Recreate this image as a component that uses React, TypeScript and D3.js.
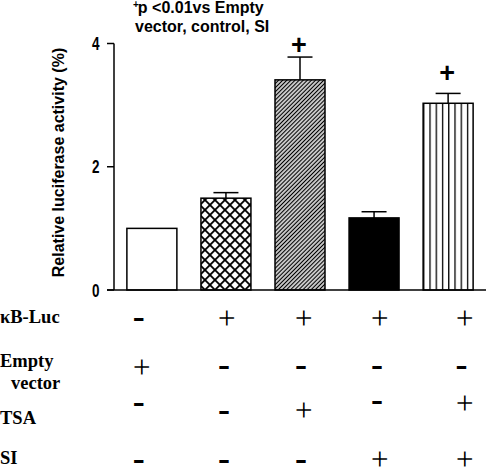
import React from "react";
import * as d3 from "d3";

const categories = ["Empty vector", "κB-Luc", "κB-Luc+TSA", "κB-Luc+SI", "κB-Luc+TSA+SI"];
const means = [1.0, 1.49, 3.41, 1.17, 3.03];
const errors = [0, 0.09, 0.37, 0.1, 0.16];
const fills = ["white", "url(#cross)", "url(#diag)", "black", "url(#vert)"];
const sigLevels: (number | null)[] = [null, null, 3.97, null, 3.51];
const yTicks = [0, 2, 4];

const rowKbLuc = ["-", "+", "+", "+", "+"];
const rowEmpty = ["+", "-", "-", "-", "-"];
const rowTSA = ["-", "-", "+", "-", "+"];
const rowSI = ["-", "-", "-", "+", "+"];

const W = 486;
const H = 468;

export default function App() {
  const x = d3.scaleBand<string>().domain(categories).range([114, 486]).paddingInner(0.325).paddingOuter(0.174);
  const y = d3.scaleLinear().domain([0, 4]).range([290, 43.5]);
  const bw = x.bandwidth();

  // table layout
  const colDx = [-13, -2, 1, 3, 13.5];
  const rows = [
    { signs: rowKbLuc, cy: [320, 318, 318, 318, 318] },
    { signs: rowEmpty, cy: [367, 368, 368, 368, 368] },
    { signs: rowTSA, cy: [405, 413, 410, 403, 403] },
    { signs: rowSI, cy: [462, 462, 462, 459, 459] },
  ];

  const sans = "Arial, 'Liberation Sans', sans-serif";
  const serif = "'Times New Roman', 'Liberation Serif', serif";
  const plusSize = 32;
  const minusSize = 14;

  return (
    <svg width={W} height={H} style={{ position: "absolute", left: 0, top: 0, background: "white" }}>
      <defs>
        <pattern id="cross" patternUnits="userSpaceOnUse" width={7.07} height={7.07} patternTransform="rotate(45)">
          <rect width={7.07} height={7.07} fill="white" />
          <line x1={0} y1={3.535} x2={7.07} y2={3.535} stroke="black" strokeWidth={1.9} />
          <line x1={3.535} y1={0} x2={3.535} y2={7.07} stroke="black" strokeWidth={1.9} />
        </pattern>
        <pattern id="diag" patternUnits="userSpaceOnUse" width={2.9} height={10} patternTransform="rotate(45)">
          <rect width={2.9} height={10} fill="white" />
          <line x1={1.45} y1={0} x2={1.45} y2={10} stroke="black" strokeWidth={1.4} />
        </pattern>
        <pattern id="vert" patternUnits="userSpaceOnUse" x={(x(categories[4]) ?? 0)} width={bw / 8} height={10}>
          <rect width={bw / 8} height={10} fill="white" />
          <line x1={0} y1={0} x2={0} y2={10} stroke="black" strokeWidth={2.6} />
        </pattern>
      </defs>

      {/* title */}
      <text x={133} y={13} fontFamily={sans} fontWeight="bold" fontSize={16} fill="black">
        <tspan fontSize={10} dy={-5}>+</tspan>
        <tspan dy={5} dx={-1}>p &lt;0.01vs Empty</tspan>
      </text>
      <text x={135} y={32} fontFamily={sans} fontWeight="bold" fontSize={16} fill="black">
        vector, control, SI
      </text>

      {/* y label */}
      <text
        transform={`translate(64,162.5) rotate(-90)`}
        textAnchor="middle"
        fontFamily={sans}
        fontWeight="bold"
        fontSize={16}
        fill="black"
      >
        Relative luciferase activity (%)
      </text>

      {/* bars */}
      {categories.map((c, i) => (
        <rect
          key={c}
          x={x(c)}
          y={y(means[i])}
          width={bw}
          height={y(0) - y(means[i])}
          fill={fills[i]}
          stroke="black"
          strokeWidth={1.5}
        />
      ))}

      {/* error bars */}
      {categories.map((c, i) =>
        errors[i] > 0 ? (
          <g key={"e" + c} stroke="black" strokeWidth={1.5}>
            <line x1={(x(c) ?? 0) + bw / 2} x2={(x(c) ?? 0) + bw / 2} y1={y(means[i])} y2={y(means[i] + errors[i])} />
            <line
              x1={(x(c) ?? 0) + bw / 4}
              x2={(x(c) ?? 0) + (3 * bw) / 4}
              y1={y(means[i] + errors[i])}
              y2={y(means[i] + errors[i])}
            />
          </g>
        ) : null
      )}

      {/* significance marks */}
      {categories.map((c, i) =>
        sigLevels[i] != null ? (
          <text
            key={"s" + c}
            x={(x(c) ?? 0) + bw / 2 - 1}
            y={y(sigLevels[i] as number) + 8.5}
            textAnchor="middle"
            fontFamily={sans}
            fontWeight="bold"
            fontSize={27}
            fill="black"
          >
            +
          </text>
        ) : null
      )}

      {/* axes */}
      <g stroke="black" strokeWidth={1.5} fill="none">
        <line x1={114} x2={114} y1={y(0)} y2={y(4)} />
        <line x1={107} x2={486} y1={y(0)} y2={y(0)} />
        {yTicks.map((t) => (
          <line key={t} x1={107} x2={114} y1={y(t)} y2={y(t)} />
        ))}
      </g>
      {yTicks.map((t) => (
        <text
          key={"t" + t}
          x={99.5}
          y={y(t) + 6.5}
          textAnchor="end"
          fontFamily={sans}
          fontWeight="bold"
          fontSize={18}
          textLength={7.5}
          lengthAdjust="spacingAndGlyphs"
          fill="black"
        >
          {t}
        </text>
      ))}

      {/* table row labels */}
      <g fontFamily={serif} fontWeight="bold" fontSize={18.5} fill="black">
        <text x={0} y={323}>κB-Luc</text>
        <text x={0} y={367}>Empty</text>
        <text x={11} y={389}>vector</text>
        <text x={0} y={424}>TSA</text>
        <text x={0} y={464}>SI</text>
      </g>

      {/* table signs */}
      {rows.map((r, ri) =>
        r.signs.map((s, ci) => {
          const cx = (x(categories[ci]) ?? 0) + bw / 2 + colDx[ci];
          const cy = r.cy[ci];
          return s === "+" ? (
            <text
              key={ri + "-" + ci}
              transform={`translate(${cx},${cy}) rotate(90)`}
              x={0}
              y={0.253 * plusSize}
              textAnchor="middle"
              fontFamily={serif}
              fontSize={plusSize}
              fill="black"
            >
              +
            </text>
          ) : (
            <text
              key={ri + "-" + ci}
              x={cx - 4}
              y={cy + 3.2}
              fontFamily={serif}
              fontWeight="bold"
              fontSize={minusSize}
              textLength={8}
              lengthAdjust="spacingAndGlyphs"
              stroke="black"
              strokeWidth={1.8}
              fill="black"
            >
              -
            </text>
          );
        })
      )}
    </svg>
  );
}
